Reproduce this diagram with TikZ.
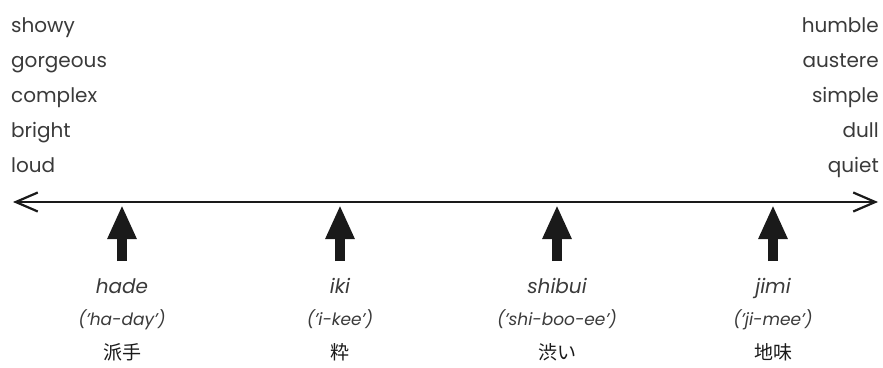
\documentclass[tikz,border=0pt]{standalone}
\usepackage{fontspec}
\setmainfont{Poppins}
\newfontfamily\jpfont{Noto Sans CJK JP}
\usetikzlibrary{arrows.meta}
\definecolor{ink}{HTML}{1A1A1A}
\definecolor{txt}{HTML}{3A3A3A}
\tikzset{
  word/.style={inner sep=0pt, text=txt, font=\fontsize{20}{20}\selectfont},
  lword/.style={word, anchor=base west},
  rword/.style={word, anchor=base east},
  term/.style={inner sep=0pt, anchor=base, text=txt, font=\fontsize{20}{20}\selectfont\itshape},
  sound/.style={inner sep=0pt, anchor=base, text=txt, font=\fontsize{17}{17}\selectfont\itshape},
  kanji/.style={inner sep=0pt, anchor=base, text=ink, font=\fontsize{19}{19}\selectfont\jpfont},
  axisline/.style={draw=ink, line width=2.8pt, {Straight Barb[length=22pt,width=19pt,line width=2.2pt]}-{Straight Barb[length=22pt,width=19pt,line width=2.2pt]}},
  pointer/.style={draw=ink, line width=9.5pt, -{Triangle[length=34pt,width=27pt]}}
}
\begin{document}
\begin{tikzpicture}[x=1pt,y=-1pt]
\useasboundingbox (0,0) rectangle (883,367);
% left-hand qualities
\node[lword] (l1) at (11,32) {showy};
\node[lword] (l2) at (11,67) {gorgeous};
\node[lword] (l3) at (11,102) {complex};
\node[lword] (l4) at (11,137) {bright};
\node[lword] (l5) at (11,172) {loud};
% right-hand qualities
\node[rword] (r1) at (879,32) {humble};
\node[rword] (r2) at (879,67) {austere};
\node[rword] (r3) at (879,102) {simple};
\node[rword] (r4) at (879,137) {dull};
\node[rword] (r5) at (879,172) {quiet};
% the scale
\coordinate (sl) at (13,202);
\coordinate (sr) at (878,202);
\draw[axisline] (sl) -- (sr);
% pointers and terms
\foreach \n/\x/\t/\s/\k in {hade/122/hade/('ha-day')/派手,
                            iki/340/iki/('i-kee')/粋,
                            shibui/557/shibui/('shi-boo-ee')/渋い,
                            jimi/773/jimi/('ji-mee')/地味}{
  \coordinate (\n-b) at (\x,261);
  \coordinate (\n-t) at (\x,205);
  \draw[pointer] (\n-b) -- (\n-t);
  \node[term] (\n-w) at (\x,293) {\t};
  \node[sound] (\n-p) at (\x,325) {\s};
  \node[kanji] (\n-k) at (\x,359) {\k};
}
\end{tikzpicture}
\end{document}
